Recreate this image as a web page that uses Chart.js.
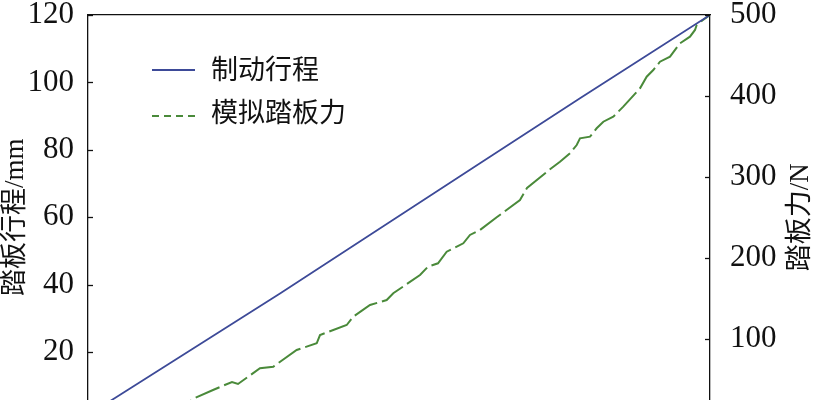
<!DOCTYPE html>
<html>
<head>
<meta charset="utf-8">
<script src="https://cdn.jsdelivr.net/npm/chart.js@4/dist/chart.umd.min.js"></script>
<style>
html, body { margin: 0; padding: 0; background: #fff; overflow: hidden; }
#wrap { width: 821px; height: 400px; overflow: hidden; }
</style>
</head>
<body>
<div id="wrap"><canvas id="chart" width="821" height="440"></canvas></div>
<script>
// 数据 (x axis is below the crop, so time is on a 0-10 scale)
const strokeTime = [0, 0.434, 3.087, 6.302, 7.910, 10];
const strokeValues = [1.4, 6.4, 37.4, 76.0, 95.3, 120];

const forceTime = [1.318, 1.720, 2.010, 2.315, 2.412, 2.765, 2.979, 3.355, 3.677, 3.730, 4.159, 4.265,
  4.534, 4.802, 4.908, 5.338, 5.466, 5.627, 5.767, 6.034, 6.141, 6.302, 6.576, 6.945, 7.058,
  7.428, 7.588, 7.749, 7.857, 7.910, 8.071, 8.178, 8.285, 8.445, 8.606, 8.875, 8.982, 9.088,
  9.196, 9.357, 9.518, 9.678, 9.759, 9.786, 9.887, 10];
const forceValues = [5.6, 26.6, 36.5, 46.4, 43.9, 63.3, 65.3, 85.9, 94.2, 104.4, 116.8, 127.1,
  141.5, 147.7, 156.0, 178.6, 188.9, 193.1, 207.4, 217.8, 228.1, 234.2, 250.3, 271.3, 286.2,
  309.3, 318.7, 329.0, 339.3, 347.6, 349.6, 360.0, 368.1, 374.3, 386.7, 409.4, 423.7, 432.0,
  442.3, 448.5, 465.0, 473.2, 481.5, 487.6, 493.8, 500];

const seriesLabels = ['制动行程', '模拟踏板力'];
const leftTitle = '踏板行程/mm';
const rightTitle = '踏板力/N';

const fontFamily = '"Liberation Serif", "Noto Sans CJK SC", serif';

function toPoints(xs, ys) {
    return xs.map((x, i) => ({ x: x, y: ys[i] }));
}

// 图例, 向内的刻度线和右侧标题
const overlay = {
    id: 'overlay',
    afterDraw(chart) {
        const ctx = chart.ctx;
        const area = chart.chartArea;
        ctx.save();

        // 刻度线朝内
        ctx.strokeStyle = '#111';
        ctx.lineWidth = 1.3;
        ['y', 'y1'].forEach(id => {
            const s = chart.scales[id];
            const x0 = id === 'y' ? area.left : area.right;
            const dir = id === 'y' ? 1 : -1;
            s.ticks.forEach(t => {
                const py = Math.round(s.getPixelForValue(t.value)) + 0.5;
                ctx.beginPath();
                ctx.moveTo(x0, py);
                ctx.lineTo(x0 + dir * 5, py);
                ctx.stroke();
            });
        });

        ctx.font = '27px ' + fontFamily;
        ctx.textBaseline = 'middle';
        chart.data.datasets.forEach((ds, i) => {
            const y = area.top + 55 + i * 46;
            ctx.strokeStyle = ds.borderColor;
            ctx.lineWidth = 2;
            ctx.setLineDash(i ? [7, 5] : []);
            ctx.beginPath();
            ctx.moveTo(area.left + 64, y);
            ctx.lineTo(area.left + 107, y);
            ctx.stroke();
            ctx.setLineDash([]);
            ctx.fillStyle = '#111';
            ctx.fillText(ds.label, area.left + 123, y + 2 - i * 3);
        });
        const s = chart.scales.y1;
        ctx.translate(s.right - 20, (s.top + s.bottom) / 2);
        ctx.rotate(-Math.PI / 2);
        ctx.textAlign = 'center';
        ctx.fillText(rightTitle, 0, 0);
        ctx.restore();
    }
};

// 去掉刻度标签带来的额外留白
function noPad(s) {
    s.paddingTop = 0; s.paddingBottom = 0; s.paddingLeft = 0; s.paddingRight = 0;
}

const ctx = document.getElementById('chart');
new Chart(ctx, {
    type: 'line',
    data: {
        datasets: [{
            label: seriesLabels[0],
            data: toPoints(strokeTime, strokeValues),
            borderColor: '#3d4a98',
            borderWidth: 1.8,
            pointRadius: 0,
            fill: false,
            yAxisID: 'y'
        }, {
            label: seriesLabels[1],
            data: toPoints(forceTime, forceValues),
            borderColor: '#4a8a3a',
            borderWidth: 2,
            borderDash: [26, 5],
            pointRadius: 0,
            fill: false,
            yAxisID: 'y1'
        }]
    },
    plugins: [overlay],
    options: {
        responsive: false,
        animation: false,
        layout: { padding: 0 },
        plugins: { legend: { display: false }, tooltip: { enabled: false } },
        scales: {
            x: {
                type: 'linear', position: 'bottom', min: 0, max: 10,
                ticks: { display: false },
                grid: { display: false },
                border: { display: true, color: '#111', width: 1.3 },
                afterFit: s => { s.height = 20.5; noPad(s); }
            },
            xTop: {
                type: 'linear', position: 'top', min: 0, max: 10,
                ticks: { display: false },
                grid: { display: false },
                border: { display: true, color: '#111', width: 1.3 },
                afterFit: s => { s.height = 15; noPad(s); }
            },
            y: {
                position: 'left', min: 0, max: 120,
                ticks: { stepSize: 20, padding: 6, color: '#111', font: { family: fontFamily, size: 31 } },
                grid: { display: false },
                border: { display: true, color: '#111', width: 1.3 },
                title: { display: true, text: leftTitle, color: '#111', padding: 0, font: { family: fontFamily, size: 27 } },
                afterFit: s => { s.width = 88; noPad(s); }
            },
            y1: {
                position: 'right', min: 0, max: 500,
                ticks: { stepSize: 100, padding: 12, color: '#111', font: { family: fontFamily, size: 31 } },
                grid: { display: false },
                border: { display: true, color: '#111', width: 1.3 },
                afterFit: s => { s.width = 111; noPad(s); }
            }
        }
    }
});
</script>
</body>
</html>
